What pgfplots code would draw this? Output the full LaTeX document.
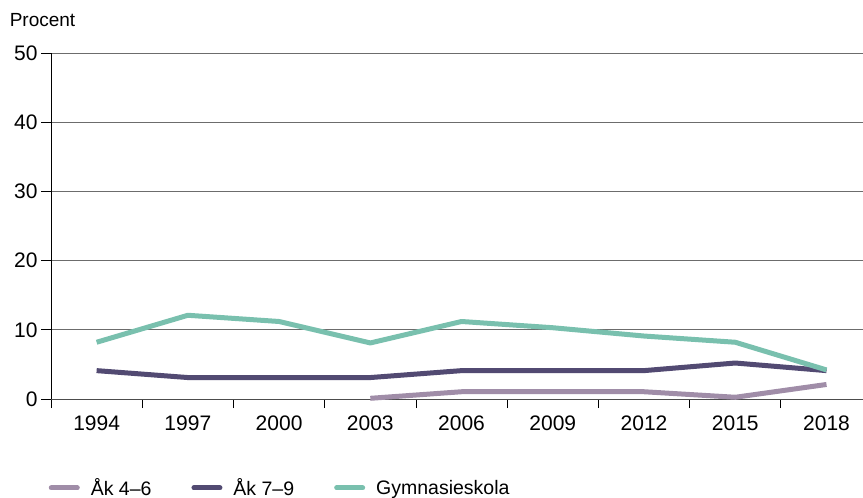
\documentclass[border=0pt]{standalone}
\usepackage{pgfplots}
\pgfplotsset{compat=1.18}
\usepackage{fontspec}
\setmainfont{Liberation Sans}
\definecolor{lila}{HTML}{A08DA8}
\definecolor{morklila}{HTML}{524A72}
\definecolor{gron}{HTML}{79C0AE}
\begin{document}
\begin{tikzpicture}
\begin{axis}[
    scale only axis,
    width=812pt, height=346pt,
    xmin=-0.5, xmax=8.4,
    ymin=0, ymax=50,
    ytick={0,10,...,50},
    xtick={0,...,8},
    xticklabels={1994,1997,2000,2003,2006,2009,2012,2015,2018},
    minor xtick={-0.5,0.5,...,7.5},
    major x tick style={draw=none},
    minor x tick style={black, line width=0.8pt},
    x tick label style={yshift=-3pt},
    tick align=outside,
    minor tick length=9pt,
    y tick style={black, line width=0.8pt},
    major tick length=10pt,
    ymajorgrids,
    grid style={gray!85!black, line width=0.8pt},
    axis x line*=bottom,
    axis y line*=left,
    axis line style={black, line width=0.9pt},
    x axis line style={gray!60!black},
    font=\fontsize{19}{22}\selectfont,
    tick label style={font=\fontsize{21}{24}\selectfont},
    /pgf/number format/assume math mode=true,
    clip=false,
    legend columns=-1,
    legend style={at={(-0.003,-0.257)}, anchor=west, draw=none, inner sep=0pt,
        font=\fontsize{19.5}{22}\selectfont,
        nodes={inner sep=2pt},
        /tikz/every odd column/.append style={column sep=9pt},
        /tikz/every even column/.append style={column sep=38pt}},
    legend image code/.code={\draw[#1, line cap=round, line width=5pt] (2.5pt,0pt) -- (28.5pt,0pt);},
    every axis plot/.append style={line width=5pt, line join=round},
]
\addplot[lila] coordinates {(3,0.1) (4,1.05) (5,1.05) (6,1.05) (7,0.25) (8,2.1)};
\addlegendentry{Åk 4–6}
\addplot[morklila] coordinates {(0,4.1) (1,3.1) (2,3.1) (3,3.1) (4,4.1) (5,4.1) (6,4.1) (7,5.2) (8,4.1)};
\addlegendentry{Åk 7–9}
\addplot[gron] coordinates {(0,8.2) (1,12.1) (2,11.2) (3,8.1) (4,11.2) (5,10.3) (6,9.1) (7,8.2) (8,4.2)};
\addlegendentry{Gymnasieskola}
\node[anchor=south west, inner sep=0pt] at (rel axis cs:-0.051,1.075) {Procent};
\coordinate (bl) at (rel axis cs:0,0);
\coordinate (tr) at (rel axis cs:1,1);
\end{axis}
\pgfresetboundingbox
\path ([shift={(-51pt,-98pt)}]bl) rectangle ([shift={(0pt,53pt)}]tr);
\end{tikzpicture}
\end{document}
